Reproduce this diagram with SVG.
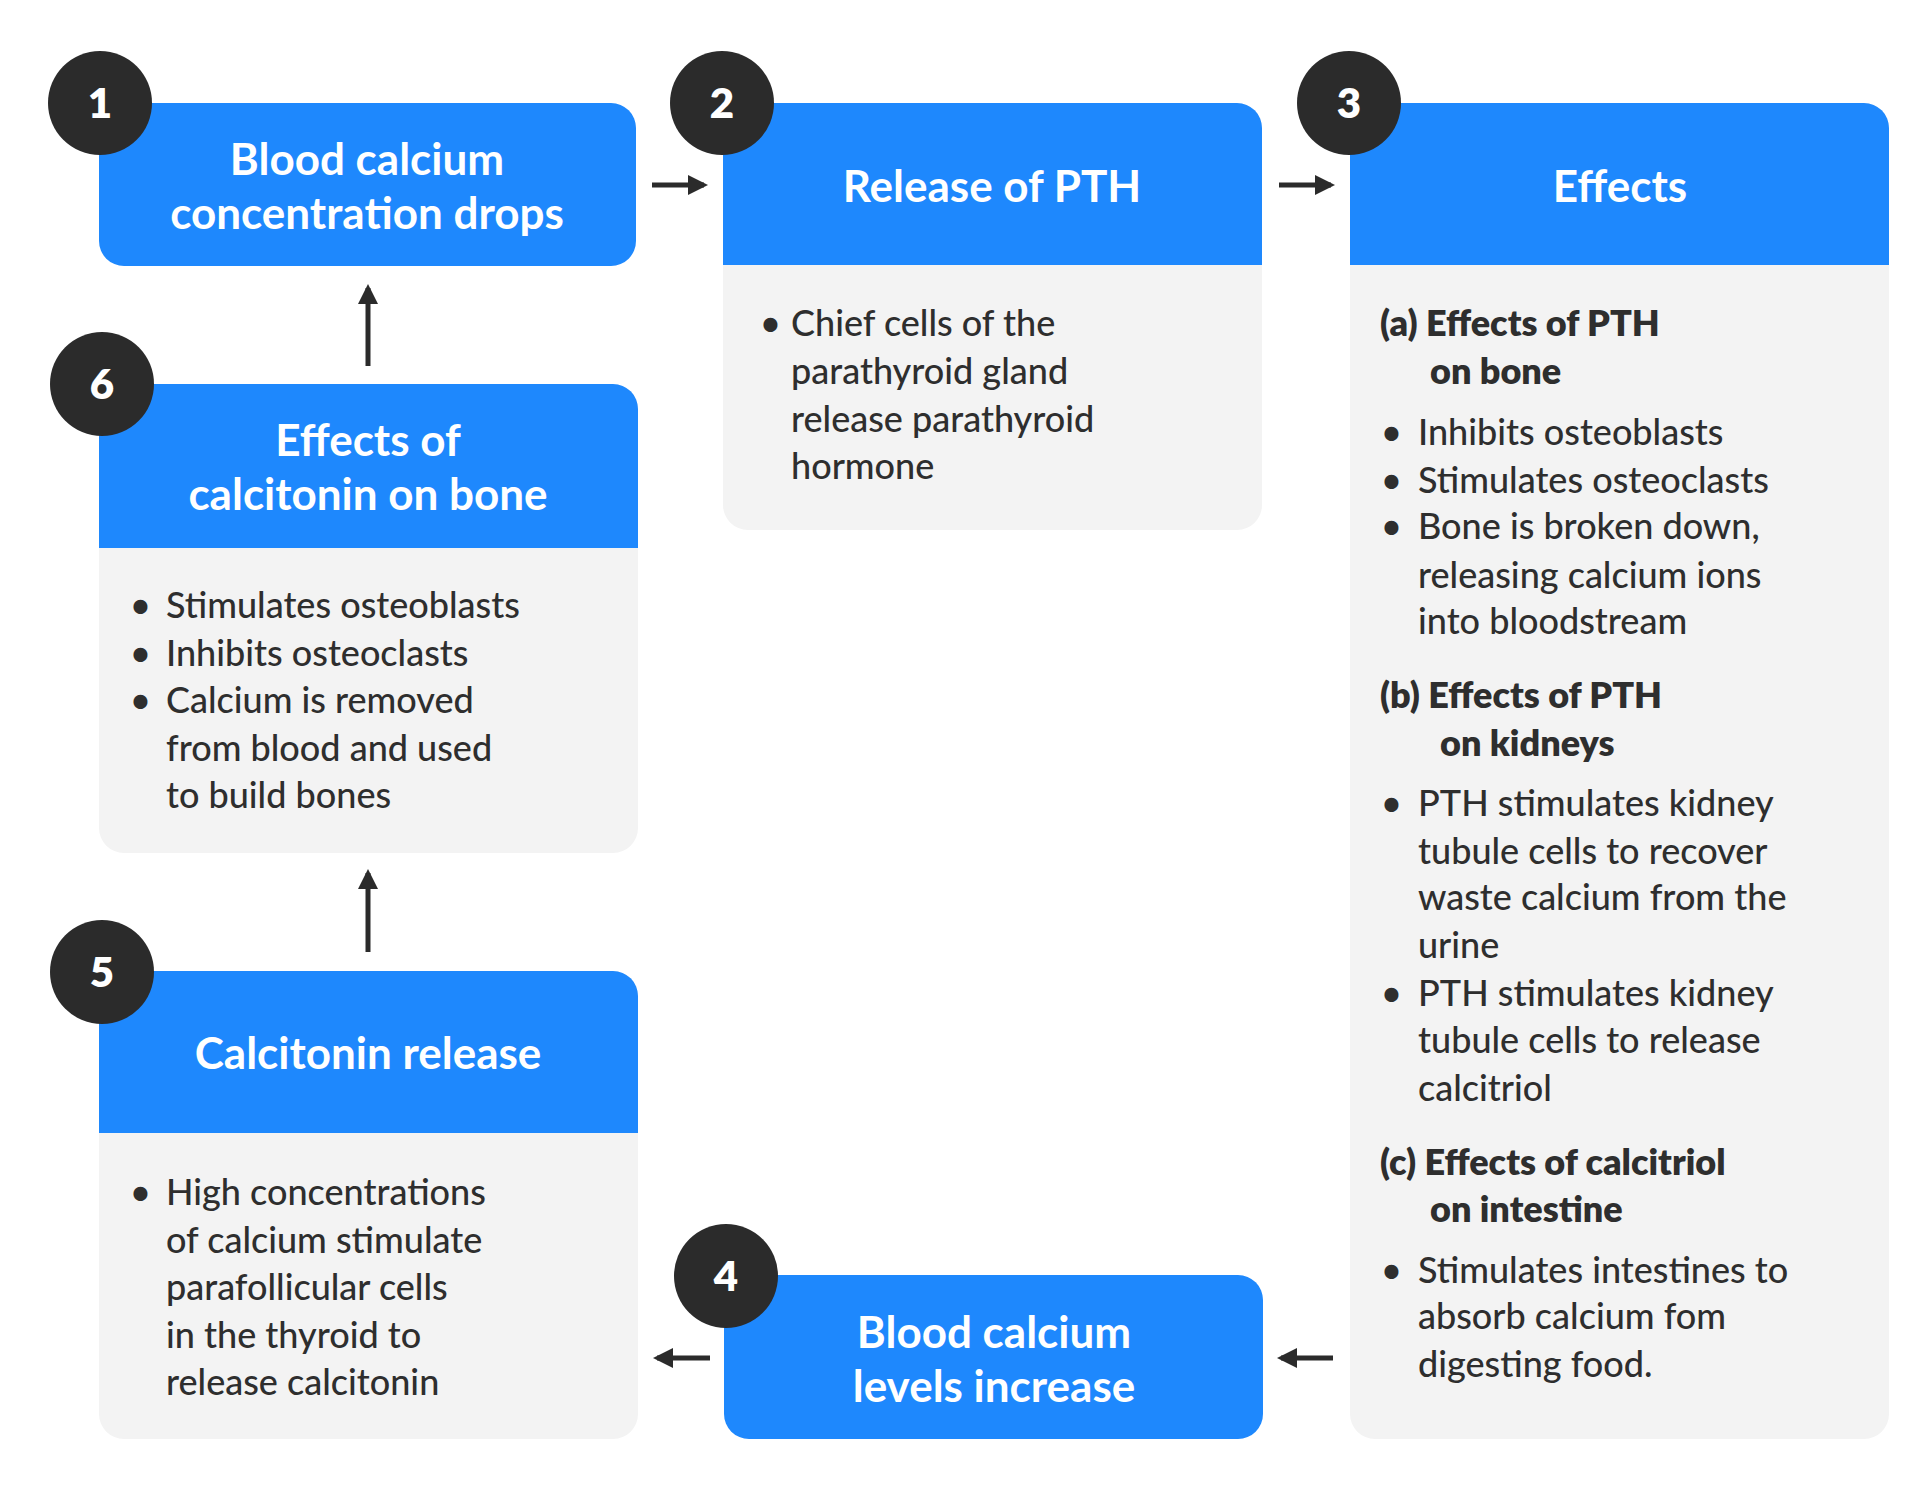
<svg xmlns="http://www.w3.org/2000/svg" width="1932" height="1499" viewBox="0 0 1932 1499">
<style>
.hd{fill:#1e88fd}.bd{fill:#f3f3f3}
.ht{font-family:Lato,"Open Sans",sans-serif;font-weight:700;font-size:44px;fill:#fff;text-anchor:middle}
.t{font-family:Lato,"Open Sans",sans-serif;font-weight:500;font-size:36px;fill:#2e2e2e}
.b{font-weight:800}
.bc{fill:#2b2b2b}.bn{font-family:Lato,sans-serif;font-weight:800;font-size:42px;fill:#fff;text-anchor:middle}
.ar{stroke:#2b2b2b;stroke-width:5;fill:none}
</style>
<defs><marker id="ah" viewBox="0 0 10 10" refX="8" refY="5" markerWidth="4" markerHeight="4" orient="auto"><path d="M0,0L10,5L0,10z" fill="#2b2b2b"/></marker></defs>
<g id="connectors">
<line class="ar" x1="652" y1="185" x2="704" y2="185" marker-end="url(#ah)"/>
<line class="ar" x1="1279" y1="185" x2="1331" y2="185" marker-end="url(#ah)"/>
<line class="ar" x1="1333" y1="1358" x2="1281" y2="1358" marker-end="url(#ah)"/>
<line class="ar" x1="710" y1="1358" x2="657" y2="1358" marker-end="url(#ah)"/>
<line class="ar" x1="368" y1="952" x2="368" y2="873" marker-end="url(#ah)"/>
<line class="ar" x1="368" y1="366" x2="368" y2="288" marker-end="url(#ah)"/>
</g>
<g id="n1">
<rect class="hd" x="99" y="103" width="537" height="163" rx="25"/>
<text class="ht" x="367" y="175">Blood calcium</text><text class="ht" x="367" y="229">concentration drops</text>
<circle class="bc" cx="100" cy="103" r="52"/><text class="bn" x="100" y="118">1</text>
</g>
<g id="n2">
<rect class="bd" x="723" y="103" width="539" height="427" rx="25"/>
<path class="hd" d="M723,103H1237a25,25 0 0 1 25,25V265H723z"/>
<text class="ht" x="992" y="202">Release of PTH</text>
<g class="t"><text x="760" y="336">•</text><text x="791" y="336">Chief cells of the</text><text x="791" y="384">parathyroid gland</text><text x="791" y="432">release parathyroid</text><text x="791" y="479">hormone</text></g>
<circle class="bc" cx="722" cy="103" r="52"/><text class="bn" x="722" y="118">2</text>
</g>
<g id="n3">
<rect class="bd" x="1350" y="103" width="539" height="1336" rx="25"/>
<path class="hd" d="M1350,103H1864a25,25 0 0 1 25,25V265H1350z"/>
<text class="ht" x="1620" y="202">Effects</text>
<g class="t">
<text class="b" x="1380" y="336">(a) Effects of PTH</text><text class="b" x="1430" y="384">on bone</text>
<text x="1381" y="445">•</text><text x="1418" y="445">Inhibits osteoblasts</text>
<text x="1381" y="493">•</text><text x="1418" y="493">Stimulates osteoclasts</text>
<text x="1381" y="539">•</text><text x="1418" y="539">Bone is broken down,</text><text x="1418" y="588">releasing calcium ions</text><text x="1418" y="634">into bloodstream</text>
<text class="b" x="1380" y="708">(b) Effects of PTH</text><text class="b" x="1440" y="756">on kidneys</text>
<text x="1381" y="816">•</text><text x="1418" y="816">PTH stimulates kidney</text><text x="1418" y="864">tubule cells to recover</text><text x="1418" y="910">waste calcium from the</text><text x="1418" y="958">urine</text>
<text x="1381" y="1006">•</text><text x="1418" y="1006">PTH stimulates kidney</text><text x="1418" y="1053">tubule cells to release</text><text x="1418" y="1101">calcitriol</text>
<text class="b" x="1380" y="1175">(c) Effects of calcitriol</text><text class="b" x="1430" y="1222">on intestine</text>
<text x="1381" y="1283">•</text><text x="1418" y="1283">Stimulates intestines to</text><text x="1418" y="1329">absorb calcium fom</text><text x="1418" y="1377">digesting food.</text>
</g>
<circle class="bc" cx="1349" cy="103" r="52"/><text class="bn" x="1349" y="118">3</text>
</g>
<g id="n4">
<rect class="hd" x="724" y="1275" width="539" height="164" rx="25"/>
<text class="ht" x="994" y="1348">Blood calcium</text><text class="ht" x="994" y="1402">levels increase</text>
<circle class="bc" cx="726" cy="1276" r="52"/><text class="bn" x="726" y="1291">4</text>
</g>
<g id="n5">
<rect class="bd" x="99" y="971" width="539" height="468" rx="25"/>
<path class="hd" d="M99,971H613a25,25 0 0 1 25,25V1133H99z"/>
<text class="ht" x="368" y="1069">Calcitonin release</text>
<g class="t"><text x="130" y="1205">•</text><text x="166" y="1205">High concentrations</text><text x="166" y="1253">of calcium stimulate</text><text x="166" y="1300">parafollicular cells</text><text x="166" y="1348">in the thyroid to</text><text x="166" y="1395">release calcitonin</text></g>
<circle class="bc" cx="102" cy="972" r="52"/><text class="bn" x="102" y="987">5</text>
</g>
<g id="n6">
<rect class="bd" x="99" y="384" width="539" height="469" rx="25"/>
<path class="hd" d="M99,384H613a25,25 0 0 1 25,25V548H99z"/>
<text class="ht" x="368" y="456">Effects of</text><text class="ht" x="368" y="510">calcitonin on bone</text>
<g class="t"><text x="130" y="618">•</text><text x="166" y="618">Stimulates osteoblasts</text><text x="130" y="666">•</text><text x="166" y="666">Inhibits osteoclasts</text><text x="130" y="713">•</text><text x="166" y="713">Calcium is removed</text><text x="166" y="761">from blood and used</text><text x="166" y="808">to build bones</text></g>
<circle class="bc" cx="102" cy="384" r="52"/><text class="bn" x="102" y="399">6</text>
</g>
</svg>
